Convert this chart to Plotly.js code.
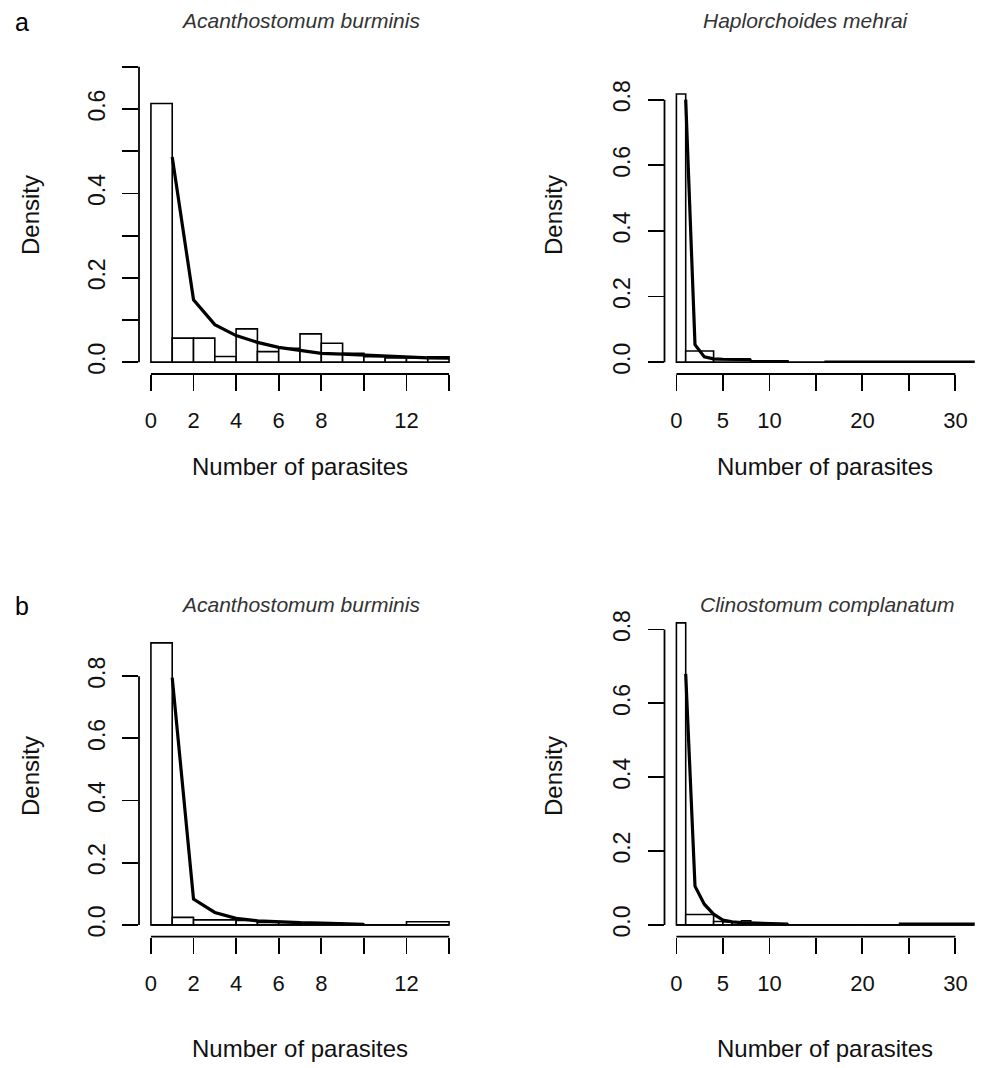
<!DOCTYPE html>
<html>
<head>
<meta charset="utf-8">
<script src="https://cdn.plot.ly/plotly-3.0.1.min.js"></script>
<style>html,body{margin:0;padding:0;background:#fff;overflow:hidden}#chart{width:983px;height:1068px}</style>
</head>
<body>
<div id="chart"></div>
<script>
// ---------- data ----------
const panelTitles = ["Acanthostomum burminis", "Haplorchoides mehrai", "Acanthostomum burminis", "Clinostomum complanatum"];
const panelLetters = ["a", "b"];
const xAxisTitle = "Number of parasites";
const yAxisTitle = "Density";

// panel a, left: Acanthostomum burminis
const aLeftEdges   = [0,1,2,3,4,5,6,7,8,9,10,11,12,13,14];
const aLeftDensity = [0.613,0.057,0.057,0.0135,0.079,0.025,0.033,0.067,0.045,0.021,0.013,0.010,0.010,0.013];
const aLeftCurveX  = [1,2,3,4,5,6,7,8,9,10,11,12,13,14];
const aLeftCurveY  = [0.486,0.148,0.089,0.063,0.047,0.035,0.028,0.021,0.019,0.017,0.0135,0.012,0.010,0.0095];

// panel a, right: Haplorchoides mehrai
const aRightEdges   = [0,1,4,8,12,16,32];
const aRightDensity = [0.817,0.034,0.008,0.004,0,0.003];
const aRightCurveX  = [1,2,3,4,5,6,7,8];
const aRightCurveY  = [0.800,0.053,0.016,0.010,0.009,0.009,0.008,0.008];

// panel b, left: Acanthostomum burminis
const bLeftEdges   = [0,1,2,4,5,6,7,8,9,10,12,14];
const bLeftDensity = [0.907,0.024,0.016,0.014,0.008,0.008,0.006,0.005,0.003,0,0.010];
const bLeftCurveX  = [1,2,3,4,5,6,7,8,9,10];
const bLeftCurveY  = [0.795,0.083,0.040,0.021,0.013,0.009,0.007,0.006,0.004,0.002];

// panel b, right: Clinostomum complanatum
const bRightEdges   = [0,1,4,5,6,7,8,12,16,20,24,32];
const bRightDensity = [0.818,0.028,0.009,0.008,0.008,0.011,0.002,0,0,0,0.004];
const bRightCurveX  = [1,2,3,4,5,6,7,8,9,10,11,12];
const bRightCurveY  = [0.680,0.105,0.056,0.029,0.013,0.008,0.006,0.005,0.004,0.003,0.003,0.002];

// ticks
const leftXTicks  = [0,2,4,6,8,10,12,14];
const leftXLabels = ["0","2","4","6","8","","12",""];
const rightXTicks  = [0,5,10,15,20,25,30];
const rightXLabels = ["0","5","10","","20","","30"];
const aLeftYTicks  = [0,0.1,0.2,0.3,0.4,0.5,0.6,0.7];
const aLeftYLabels = ["0.0","","0.2","","0.4","","0.6",""];
const stdYTicks  = [0,0.2,0.4,0.6,0.8];
const stdYLabels = ["0.0","0.2","0.4","0.6","0.8"];

// ---------- build ----------
const W = 983, H = 1068;
const FONT = "Liberation Sans, Arial, Helvetica, sans-serif";
const px = v => v / W;
const py = v => 1 - v / H;

const panels = [
  {edges:aLeftEdges, dens:aLeftDensity, cx:aLeftCurveX, cy:aLeftCurveY, xt:leftXTicks, xl:leftXLabels, yt:aLeftYTicks, yl:aLeftYLabels,
   xr:[-0.56,14.56], yr:[-0.028,0.728], xd:[px(139),px(461)], yd:[py(374),py(55)], title:panelTitles[0], tx:300, ty:20, dx:30, dy:215, nx:300, ny:466},
  {edges:aRightEdges, dens:aRightDensity, cx:aRightCurveX, cy:aRightCurveY, xt:rightXTicks, xl:rightXLabels, yt:stdYTicks, yl:stdYLabels,
   xr:[-1.28,32.97], yr:[-0.036,0.936], xd:[px(664.5),1], yd:[py(374),py(55)], title:panelTitles[1], tx:806, ty:20, dx:553, dy:215, nx:825, ny:466},
  {edges:bLeftEdges, dens:bLeftDensity, cx:bLeftCurveX, cy:bLeftCurveY, xt:leftXTicks, xl:leftXLabels, yt:stdYTicks, yl:stdYLabels,
   xr:[-0.56,14.56], yr:[-0.038,0.988], xd:[px(139),px(461)], yd:[py(936.7),py(617.7)], title:panelTitles[2], tx:300, ty:604, dx:30, dy:776, nx:300, ny:1048},
  {edges:bRightEdges, dens:bRightDensity, cx:bRightCurveX, cy:bRightCurveY, xt:rightXTicks, xl:rightXLabels, yt:stdYTicks, yl:stdYLabels,
   xr:[-1.28,32.97], yr:[-0.032,0.832], xd:[px(664.5),1], yd:[py(936.7),py(617.7)], title:panelTitles[3], tx:827, ty:604, dx:553, dy:776, nx:825, ny:1048}
];

const traces = [];
const shapes = [];
const annotations = [];
const layout = {
  width: W, height: H,
  margin: {l:0, r:0, t:0, b:0},
  paper_bgcolor: "#ffffff", plot_bgcolor: "#ffffff",
  showlegend: false,
  font: {family: FONT, color: "#111", size: 22},
  shapes: shapes, annotations: annotations
};

panels.forEach((p, i) => {
  const n = i + 1;
  const xa = n === 1 ? "x" : "x" + n;
  const ya = n === 1 ? "y" : "y" + n;
  const xKey = n === 1 ? "xaxis" : "xaxis" + n;
  const yKey = n === 1 ? "yaxis" : "yaxis" + n;

  const mids = [], widths = [];
  for (let k = 0; k < p.dens.length; k++) {
    mids.push((p.edges[k] + p.edges[k+1]) / 2);
    widths.push(p.edges[k+1] - p.edges[k]);
  }
  traces.push({
    type: "bar", x: mids, y: p.dens, width: widths, base: 0,
    xaxis: xa, yaxis: ya,
    marker: {color: "#ffffff", line: {color: "#000", width: 1.6}},
    hoverinfo: "skip"
  });
  traces.push({
    type: "scatter", mode: "lines", x: p.cx, y: p.cy,
    xaxis: xa, yaxis: ya,
    line: {color: "#000", width: 3.2},
    hoverinfo: "skip"
  });

  // histogram baseline (rect bottoms) from first to last break
  shapes.push({type:"line", xref:xa, yref:ya, x0:p.edges[0], x1:p.edges[p.edges.length-1], y0:0, y1:0,
               line:{color:"#000", width:1.6}});
  // R-style axis lines spanning first to last tick
  shapes.push({type:"line", xref:xa, yref:ya + " domain", x0:p.xt[0], x1:p.xt[p.xt.length-1], y0:0, y1:0,
               line:{color:"#000", width:1.8}});
  shapes.push({type:"line", xref:xa + " domain", yref:ya, x0:0, x1:0, y0:p.yt[0], y1:p.yt[p.yt.length-1],
               line:{color:"#000", width:1.8}});

  layout[xKey] = {
    domain: p.xd, range: p.xr, anchor: ya, fixedrange: true,
    showgrid: false, zeroline: false, showline: false,
    tickmode: "array", tickvals: p.xt, ticktext: p.xl,
    ticks: "outside", ticklen: 16, tickwidth: 1.8, tickcolor: "#000",
    ticklabelstandoff: 11,
    tickfont: {family: FONT, size: 22, color: "#111"}
  };
  layout[yKey] = {
    domain: p.yd, range: p.yr, anchor: xa, fixedrange: true,
    showgrid: false, zeroline: false, showline: false,
    tickmode: "array", tickvals: p.yt, ticktext: p.yl,
    ticks: "outside", ticklen: 16, tickwidth: 1.8, tickcolor: "#000",
    tickangle: -90, ticklabelstandoff: 8,
    tickfont: {family: FONT, size: 23, color: "#111"}
  };

  annotations.push({xref:"paper", yref:"paper", x:px(p.tx), y:py(p.ty), xanchor:"center", yanchor:"middle",
    text:"<i>" + p.title + "</i>", showarrow:false, font:{family:FONT, size:21, color:"#333"}});
  annotations.push({xref:"paper", yref:"paper", x:px(p.dx), y:py(p.dy), xanchor:"center", yanchor:"middle",
    text:yAxisTitle, textangle:-90, showarrow:false, font:{family:FONT, size:24, color:"#111"}});
  annotations.push({xref:"paper", yref:"paper", x:px(p.nx), y:py(p.ny), xanchor:"center", yanchor:"middle",
    text:xAxisTitle, showarrow:false, font:{family:FONT, size:24, color:"#111"}});
});

annotations.push({xref:"paper", yref:"paper", x:px(22), y:py(22), xanchor:"center", yanchor:"middle",
  text:panelLetters[0], showarrow:false, font:{family:FONT, size:25, color:"#000"}});
annotations.push({xref:"paper", yref:"paper", x:px(22), y:py(606), xanchor:"center", yanchor:"middle",
  text:panelLetters[1], showarrow:false, font:{family:FONT, size:25, color:"#000"}});

Plotly.newPlot("chart", traces, layout, {staticPlot: true, displayModeBar: false});
</script>
</body>
</html>
